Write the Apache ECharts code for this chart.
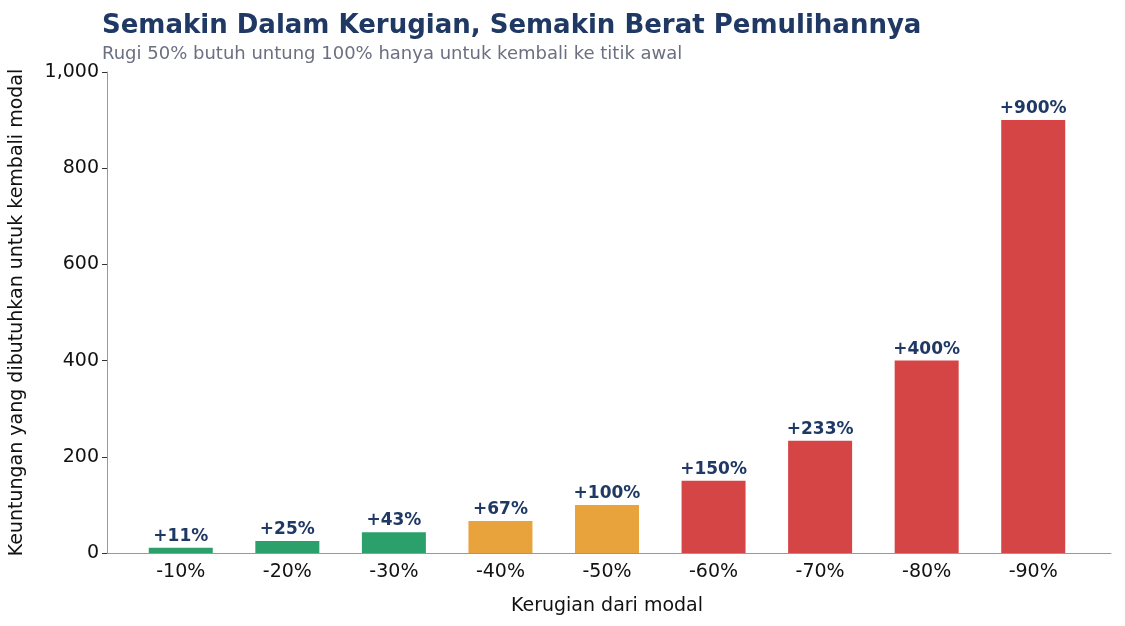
<!DOCTYPE html>
<html><head><meta charset="utf-8">
<script src="https://cdn.jsdelivr.net/npm/echarts@6/dist/echarts.min.js"></script>
<style>html,body{margin:0;padding:0;background:#fff}#c{width:1125px;height:626px}</style>
</head><body><div id="c"></div>
<script>
const categories = ['-10%','-20%','-30%','-40%','-50%','-60%','-70%','-80%','-90%'];
const values = [11.1, 25, 42.9, 66.7, 100, 150, 233.3, 400, 900];
const labels = ['+11%','+25%','+43%','+67%','+100%','+150%','+233%','+400%','+900%'];
const colors = ['#2ca06a','#2ca06a','#2ca06a','#e8a33d','#e8a33d','#d64545','#d64545','#d64545','#d64545'];
const F = 'DejaVu Sans';
const chart = echarts.init(document.getElementById('c'));
chart.setOption({
  animation:false,
  title:{text:'Semakin Dalam Kerugian, Semakin Berat Pemulihannya',
    subtext:'Rugi 50% butuh untung 100% hanya untuk kembali ke titik awal',
    left:97, top:8, itemGap:6,
    textStyle:{fontFamily:F,fontSize:26,fontWeight:'bold',color:'#1f3864'},
    subtextStyle:{fontFamily:F,fontSize:18,color:'#6b6f80'}},
  grid:[{left:127.5,right:38.5,top:72,bottom:73},{left:103,right:14,top:72,bottom:73}],
  xAxis:[
    {type:'category',gridIndex:0,data:categories,axisLine:{show:false},
     axisTick:{alignWithLabel:true,length:5,lineStyle:{color:'#333'}},
     axisLabel:{fontFamily:F,fontSize:19,color:'#111',margin:10},
     name:'Kerugian dari modal',nameLocation:'middle',nameGap:44,
     nameTextStyle:{fontFamily:F,fontSize:19,color:'#111'}},
    {type:'value',gridIndex:1,min:0,max:1,axisLine:{show:true,lineStyle:{color:'#999'}},
     axisTick:{show:false},axisLabel:{show:false},splitLine:{show:false}}
  ],
  yAxis:[
    {type:'value',gridIndex:0,min:0,max:1000,show:false},
    {type:'value',gridIndex:1,min:0,max:1000,interval:200,
     axisLine:{show:true,lineStyle:{color:'#999'}},
     axisTick:{show:true,length:5,lineStyle:{color:'#333'}},
     axisLabel:{fontFamily:F,fontSize:19,color:'#111',margin:8},
     splitLine:{show:false},
     name:'Keuntungan yang dibutuhkan untuk kembali modal',nameLocation:'middle',nameGap:80,
     nameTextStyle:{fontFamily:F,fontSize:19,color:'#111'}}
  ],
  series:[{type:'bar',xAxisIndex:0,yAxisIndex:0,barWidth:64,
    data:values.map((v,i)=>({value:v,itemStyle:{color:colors[i]}})),
    label:{show:true,position:'top',distance:3,formatter:p=>labels[p.dataIndex],
      fontFamily:F,fontSize:17,fontWeight:'bold',color:'#1f3864'}}]
});
</script></body></html>
